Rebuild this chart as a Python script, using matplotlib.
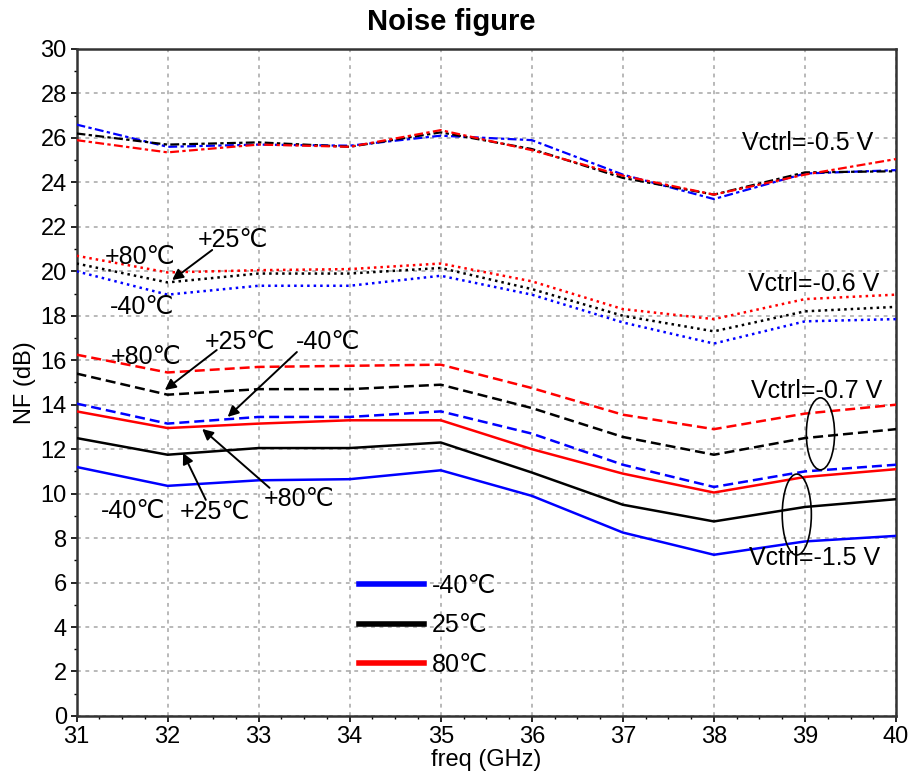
import numpy as np
import matplotlib
matplotlib.use('Agg')
import matplotlib.pyplot as plt
from matplotlib.patches import Ellipse
from matplotlib.lines import Line2D
from matplotlib.ticker import MultipleLocator

plt.rcParams['font.family'] = ['Liberation Sans', 'DejaVu Sans']

freq = [31, 32, 33, 34, 35, 36, 37, 38, 39, 40]

# Vctrl = -0.5 V (dash-dot)
nf_05_m40 = [26.6, 25.6, 25.7, 25.65, 26.1, 25.9, 24.35, 23.25, 24.4, 24.55]
nf_05_25 = [26.2, 25.7, 25.8, 25.6, 26.25, 25.5, 24.2, 23.45, 24.45, 24.5]
nf_05_80 = [25.9, 25.35, 25.7, 25.6, 26.35, 25.45, 24.3, 23.45, 24.35, 25.05]

# Vctrl = -0.6 V (dotted)
nf_06_m40 = [20.0, 18.95, 19.35, 19.35, 19.8, 18.95, 17.7, 16.75, 17.75, 17.85]
nf_06_25 = [20.35, 19.5, 19.9, 19.9, 20.15, 19.2, 18.0, 17.3, 18.2, 18.4]
nf_06_80 = [20.7, 19.95, 20.05, 20.1, 20.35, 19.55, 18.3, 17.85, 18.75, 18.95]

# Vctrl = -0.7 V (dashed)
nf_07_m40 = [14.05, 13.15, 13.45, 13.45, 13.7, 12.7, 11.3, 10.3, 11.0, 11.3]
nf_07_25 = [15.4, 14.45, 14.7, 14.7, 14.9, 13.85, 12.55, 11.75, 12.5, 12.9]
nf_07_80 = [16.25, 15.45, 15.7, 15.75, 15.8, 14.75, 13.55, 12.9, 13.6, 14.0]

# Vctrl = -1.5 V (solid)
nf_15_m40 = [11.2, 10.35, 10.6, 10.65, 11.05, 9.9, 8.25, 7.25, 7.85, 8.1]
nf_15_25 = [12.5, 11.75, 12.05, 12.05, 12.3, 10.95, 9.5, 8.75, 9.4, 9.75]
nf_15_80 = [13.7, 12.95, 13.15, 13.3, 13.3, 12.0, 10.9, 10.05, 10.75, 11.1]

temps = ['-40℃', '25℃', '80℃']
colors = ['#0000ff', '#000000', '#ff0000']

fig = plt.figure(figsize=(9.12, 7.8), dpi=100)
ax = fig.add_axes([0.0839, 0.0821, 0.8986, 0.8551])

groups = [
    ([nf_05_m40, nf_05_25, nf_05_80], (0, (4, 1.5, 1.5, 1.5)), 1.6),
    ([nf_06_m40, nf_06_25, nf_06_80], (0, (1, 1.6)), 1.8),
    ([nf_07_m40, nf_07_25, nf_07_80], (0, (4, 2)), 1.8),
    ([nf_15_m40, nf_15_25, nf_15_80], '-', 1.8),
]
for series, ls, lw in groups:
    for vals, c in zip(series, colors):
        ax.plot(freq, vals, color=c, linestyle=ls, linewidth=lw, zorder=3)

ax.set_xlim(31, 40)
ax.set_ylim(0, 30)
ax.xaxis.set_major_locator(MultipleLocator(1))
ax.xaxis.set_minor_locator(MultipleLocator(0.25))
ax.yaxis.set_major_locator(MultipleLocator(2))
ax.yaxis.set_minor_locator(MultipleLocator(1))
ax.tick_params(which='major', direction='out', length=4, width=1.2, labelsize=17, pad=3)
ax.tick_params(which='minor', direction='out', length=2.5, width=1)
ax.grid(True, which='major', color='#a5a5a5', linestyle=(0, (2.5, 3)), linewidth=1.1)
for s in ax.spines.values():
    s.set_color('#333333')
    s.set_linewidth(1.8)

ax.set_xlabel('freq (GHz)', fontsize=17, labelpad=1)
ax.set_ylabel('NF (dB)', fontsize=17, labelpad=3)
fig.text(0.495, 0.972, 'Noise figure', fontsize=21, fontweight='bold', ha='center', va='center')

fs = 18
# Vctrl labels
ax.text(39.75, 25.75, 'Vctrl=-0.5 V', fontsize=fs, ha='right', va='center')
ax.text(39.82, 19.43, 'Vctrl=-0.6 V', fontsize=fs, ha='right', va='center')
ax.text(39.85, 14.62, 'Vctrl=-0.7 V', fontsize=fs, ha='right', va='center')
ax.text(39.82, 7.11, 'Vctrl=-1.5 V', fontsize=fs, ha='right', va='center')

# temperature labels
ax.text(31.70, 20.65, '+80℃', fontsize=fs, ha='center', va='center')
ax.text(32.72, 21.41, '+25℃', fontsize=fs, ha='center', va='center')
ax.text(31.72, 18.40, '-40℃', fontsize=fs, ha='center', va='center')
ax.text(31.76, 16.15, '+80℃', fontsize=fs, ha='center', va='center')
ax.text(32.80, 16.82, '+25℃', fontsize=fs, ha='center', va='center')
ax.text(33.76, 16.82, '-40℃', fontsize=fs, ha='center', va='center')
ax.text(33.45, 9.76, '+80℃', fontsize=fs, ha='center', va='center')
ax.text(32.52, 9.18, '+25℃', fontsize=fs, ha='center', va='center')
ax.text(31.62, 9.22, '-40℃', fontsize=fs, ha='center', va='center')

arrows = [
    ((32.49, 20.96), (32.05, 19.61)),
    ((32.54, 16.46), (31.97, 14.66)),
    ((33.42, 16.37), (32.66, 13.45)),
    ((33.12, 10.26), (32.38, 12.91)),
    ((32.42, 9.72), (32.17, 11.83)),
]
for tail, head in arrows:
    ax.annotate('', xy=head, xytext=tail,
                arrowprops=dict(arrowstyle='-|>', color='k', lw=1.4,
                                mutation_scale=16, shrinkA=0, shrinkB=0))

ax.add_patch(Ellipse((39.17, 12.69), 0.31, 3.24, fill=False, edgecolor='k', lw=1.2, zorder=4))
ax.add_patch(Ellipse((38.91, 9.06), 0.32, 3.64, fill=False, edgecolor='k', lw=1.2, zorder=4))

handles = [Line2D([], [], color=c, lw=4) for c in colors]
leg = ax.legend(handles, temps, loc='upper left', bbox_to_anchor=(0.333, 0.228),
                frameon=False, fontsize=fs, handlelength=2.6, handletextpad=0.3,
                labelspacing=0.62, borderaxespad=0)

fig.savefig('out.png', dpi=100)
